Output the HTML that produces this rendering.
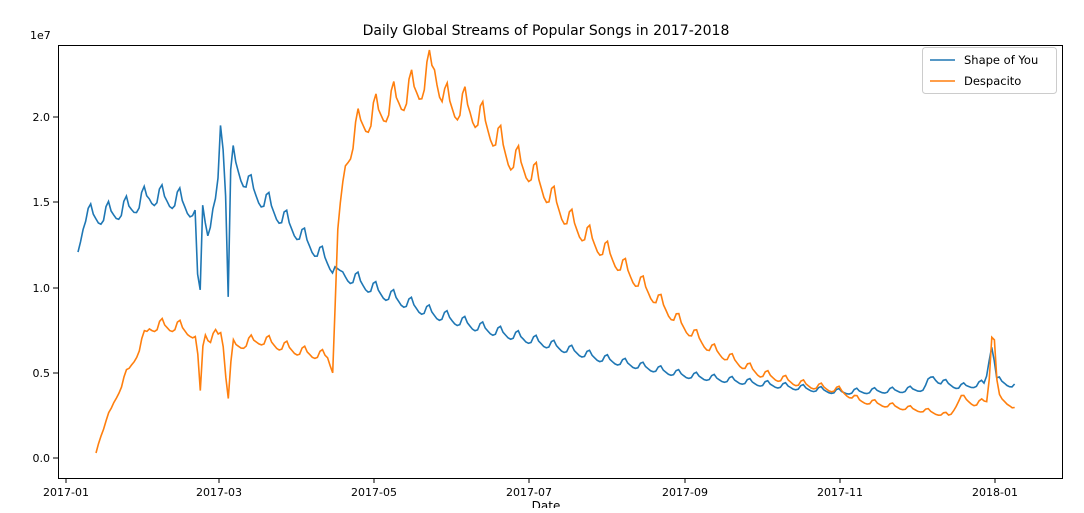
<!DOCTYPE html>
<html><head><meta charset="utf-8"><style>
html,body{margin:0;padding:0;background:#fff;}
svg text{font-family:"DejaVu Sans","Liberation Sans",sans-serif;fill:#000;}
</style></head><body>
<svg id="s" width="1084" height="508" xmlns="http://www.w3.org/2000/svg">
<rect width="1084" height="508" fill="#fff"/>
<text x="546" y="35" font-size="14" text-anchor="middle">Daily Global Streams of Popular Songs in 2017-2018</text>
<text x="30" y="39" font-size="11">1e7</text>
<g font-size="11" text-anchor="end">
<text x="50" y="462">0.0</text><text x="50" y="377">0.5</text><text x="50" y="292">1.0</text><text x="50" y="206">1.5</text><text x="50" y="121">2.0</text>
</g>
<g stroke="#000" stroke-width="1">
<line x1="53" y1="458" x2="58" y2="458"/><line x1="53" y1="373" x2="58" y2="373"/><line x1="53" y1="288" x2="58" y2="288"/><line x1="53" y1="202" x2="58" y2="202"/><line x1="53" y1="117" x2="58" y2="117"/>
<line x1="66" y1="478" x2="66" y2="483"/><line x1="219" y1="478" x2="219" y2="483"/><line x1="374" y1="478" x2="374" y2="483"/><line x1="529" y1="478" x2="529" y2="483"/><line x1="685" y1="478" x2="685" y2="483"/><line x1="840" y1="478" x2="840" y2="483"/><line x1="995" y1="478" x2="995" y2="483"/>
</g>
<g font-size="11" text-anchor="middle">
<text x="66" y="496">2017-01</text><text x="219" y="496">2017-03</text><text x="374" y="496">2017-05</text><text x="529" y="496">2017-07</text><text x="685" y="496">2017-09</text><text x="840" y="496">2017-11</text><text x="995" y="496">2018-01</text>
</g>
<text x="546" y="510" font-size="12" text-anchor="middle">Date</text>
<polyline id="a" fill="none" stroke="#1f77b4" stroke-width="1.6"/>
<polyline id="b" fill="none" stroke="#ff7f0e" stroke-width="1.6"/>
<rect x="58.5" y="45.5" width="1004" height="433" fill="none" stroke="#000" stroke-width="1"/>
<rect x="922.5" y="47.5" width="134" height="46" rx="3" fill="#fff" stroke="#ccc"/>
<line x1="930" y1="60" x2="955" y2="60" stroke="#1f77b4" stroke-width="1.6"/>
<line x1="930" y1="81" x2="955" y2="81" stroke="#ff7f0e" stroke-width="1.6"/>
<text x="964" y="64" font-size="11.5">Shape of You</text>
<text x="964" y="85" font-size="11.5">Despacito</text>
</svg>
<script>
function Y(v){return 458-v*17.05;}
function interp(k,x){for(var i=0;i<k.length-1;i++){if(x>=k[i][0]&&x<=k[i+1][0]){var t=(x-k[i][0])/(k[i+1][0]-k[i][0]||1);return k[i][1]+t*(k[i+1][1]-k[i][1]);}}return k[k.length-1][1];}
var A=[[78,12.3],[84,14.3],[100,14.3],[130,14.8],[150,15.5],[180,15.2],[196,14.5],[199,7.6],[203,15.4],[207,13.5],[217,14.8],[220,19.8],[225,17],[228,9],[231,17.8],[250,16],[300,13.2],[333,11.3],[340,11],[380,9.8],[430,8.6],[480,7.7],[530,7],[600,5.9],[685,4.9],[760,4.4],[840,3.9],[900,4],[925,4.1],[932,4.9],[940,4.5],[960,4.2],[985,4.4],[992,6.6],[997,4.6],[1008,4.4],[1016,4.2]];
var B=[[96,0.3],[100,1.2],[115,3.5],[135,6],[150,7.8],[175,7.8],[190,7.5],[197,7],[200,3.6],[204,7.7],[210,7],[222,7.4],[228,3.2],[232,6.6],[260,7],[300,6.3],[328,6],[333,5.2],[338,13.8],[346,17.8],[360,19.8],[380,20.5],[400,21.3],[420,22],[435,23.3],[445,21],[470,20.7],[490,19.5],[510,17.8],[530,17],[570,14],[610,12],[650,9.8],[680,8],[710,6.5],[760,5],[800,4.4],[840,4],[860,3.4],[900,3],[925,2.8],[950,2.5],[960,3.6],[975,3.2],[988,3.4],[993,8.2],[998,3.6],[1010,3.2],[1016,2.8]];
function build(k,x0,x1,amp,phase){var p=[];var spikes=[199,200,220,228,338,993];for(var x=x0;x<=x1;x+=2.545){var v=interp(k,x);var d=Math.round((x-66)/2.545);var w=((d+phase)%7);var f=[1,0.97,0.94,0.93,0.95,1.04,1.07][w];var near=false;for(var s=0;s<spikes.length;s++)if(Math.abs(x-spikes[s])<4)near=true;if(!near)v=v*(1+(f-1)*amp);p.push(x.toFixed(1)+","+Y(v).toFixed(1));}return p.join(" ");}
document.getElementById('a').setAttribute('points',build(A,78,1016,0.6,3));
document.getElementById('b').setAttribute('points',build(B,96,1016,0.7,3));
</script>
</body></html>
